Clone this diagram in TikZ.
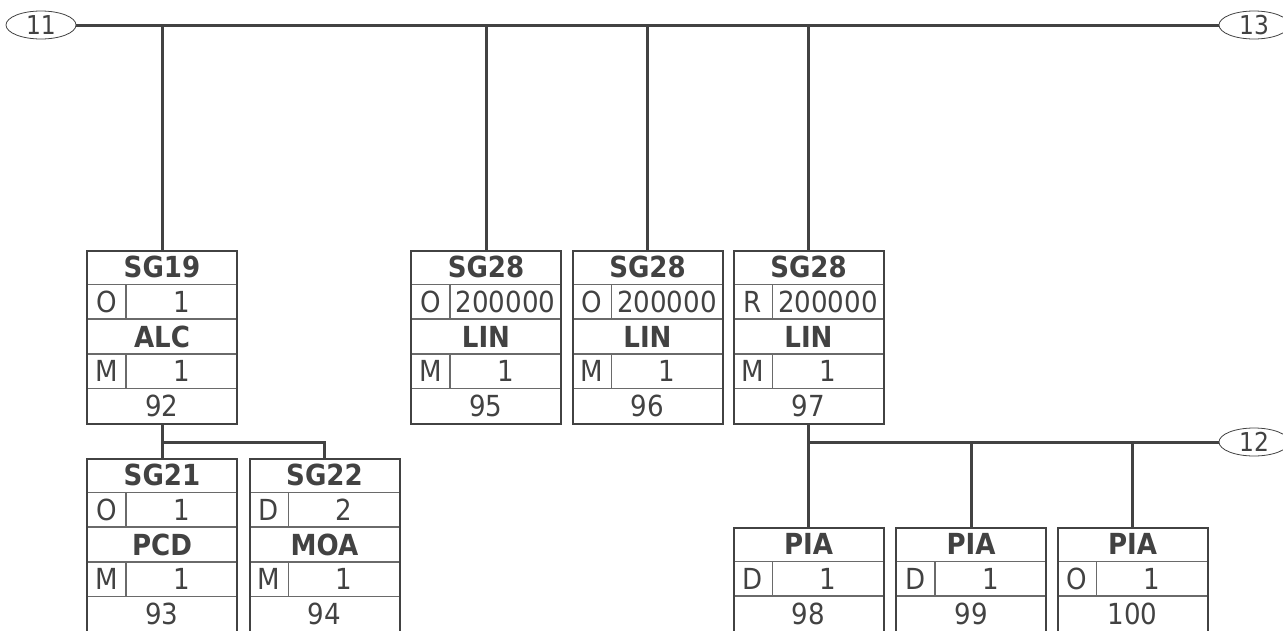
\documentclass[tikz,border=0pt]{standalone}
\usepackage{fontspec}
\setmainfont{DejaVu Sans Condensed}
\usetikzlibrary{shapes.geometric}
\definecolor{ink}{HTML}{424242}
\definecolor{rulegray}{HTML}{6A6A6A}

\begin{document}
\begin{tikzpicture}[
  x=1pt, y=-1pt, color=ink,
  font=\fontsize{29}{29}\selectfont,
  grp/.style={
    rectangle, draw, line width=2pt,
    minimum width=150pt, minimum height=173pt,
    inner sep=0pt, anchor=north
  },
  segbox/.style={grp, minimum height=103.8pt},
  cell/.style={inner sep=0pt},
  rule/.style={draw=rulegray, line width=1.5pt},
  bus/.style={line width=3pt},
  tag/.style={
    ellipse, draw, line width=0.8pt,
    minimum width=70pt, minimum height=28pt, inner sep=0pt,
    font=\fontsize{26}{26}\selectfont
  }
]
  \useasboundingbox (0,0) rectangle (1283,630);

  % group boxes
  \foreach \nm/\cx/\cy/\gp/\gs/\gr/\sn/\ss/\sr/\pn in {
    alc92/162/250/SG19/O/1/ALC/M/1/92,
    lin95/486/250/SG28/O/200000/LIN/M/1/95,
    lin96/647.5/250/SG28/O/200000/LIN/M/1/96,
    lin97/808.5/250/SG28/R/200000/LIN/M/1/97,
    pcd93/162/458/SG21/O/1/PCD/M/1/93,
    moa94/324.5/458/SG22/D/2/MOA/M/1/94} {
    \foreach \r in {34.6,69.2,103.8,138.4}
      \draw[rule] (\cx-75,\cy+\r) -- (\cx+75,\cy+\r);
    \draw[rule] (\cx-36,\cy+34.6) -- (\cx-36,\cy+69.2);
    \draw[rule] (\cx-36,\cy+103.8) -- (\cx-36,\cy+138.4);
    \node[grp] (\nm) at (\cx,\cy) {};
    \node[cell] (\nm-gp) at (\cx,\cy+17.3) {\bfseries\gp};
    \node[cell] (\nm-gs) at (\cx-55.5,\cy+51.9) {\gs};
    \node[cell] (\nm-gr) at (\cx+19.5,\cy+51.9) {\gr};
    \node[cell] (\nm-sn) at (\cx,\cy+86.5) {\bfseries\sn};
    \node[cell] (\nm-ss) at (\cx-55.5,\cy+121.1) {\ss};
    \node[cell] (\nm-sr) at (\cx+19.5,\cy+121.1) {\sr};
    \node[cell] (\nm-pn) at (\cx,\cy+155.7) {\pn};
  }

  % segment boxes
  \foreach \nm/\cx/\sn/\ss/\sr/\pn in {
    pia98/808.5/PIA/D/1/98,
    pia99/971/PIA/D/1/99,
    pia100/1132.5/PIA/O/1/100} {
    \foreach \r in {34.6,69.2}
      \draw[rule] (\cx-75,527+\r) -- (\cx+75,527+\r);
    \draw[rule] (\cx-36,561.6) -- (\cx-36,596.2);
    \node[segbox] (\nm) at (\cx,527) {};
    \node[cell] (\nm-sn) at (\cx,544.3) {\bfseries\sn};
    \node[cell] (\nm-ss) at (\cx-55.5,578.9) {\ss};
    \node[cell] (\nm-sr) at (\cx+19.5,578.9) {\sr};
    \node[cell] (\nm-pn) at (\cx,613.5) {\pn};
  }

  \node[tag] (t11) at (41,25) {11};
  \node[tag] (t13) at (1254,25) {13};
  \node[tag] (t12) at (1254,442) {12};
  \coordinate (fork92) at (162,442);

  \draw[bus] (t11) -- (t13);
  \foreach \nm in {alc92,lin95,lin96,lin97}
    \draw[bus] (\nm.north) -- (\nm.north |- t11);
  \draw[bus] (alc92.south) -- (pcd93.north);
  \draw[bus] (fork92) -| (moa94.north);
  \draw[bus] (lin97.south) -- (pia98.north);
  \draw[bus] (pia98.north |- t12) -- (t12);
  \foreach \nm in {pia99,pia100}
    \draw[bus] (\nm.north) -- (\nm.north |- t12);
\end{tikzpicture}
\end{document}
